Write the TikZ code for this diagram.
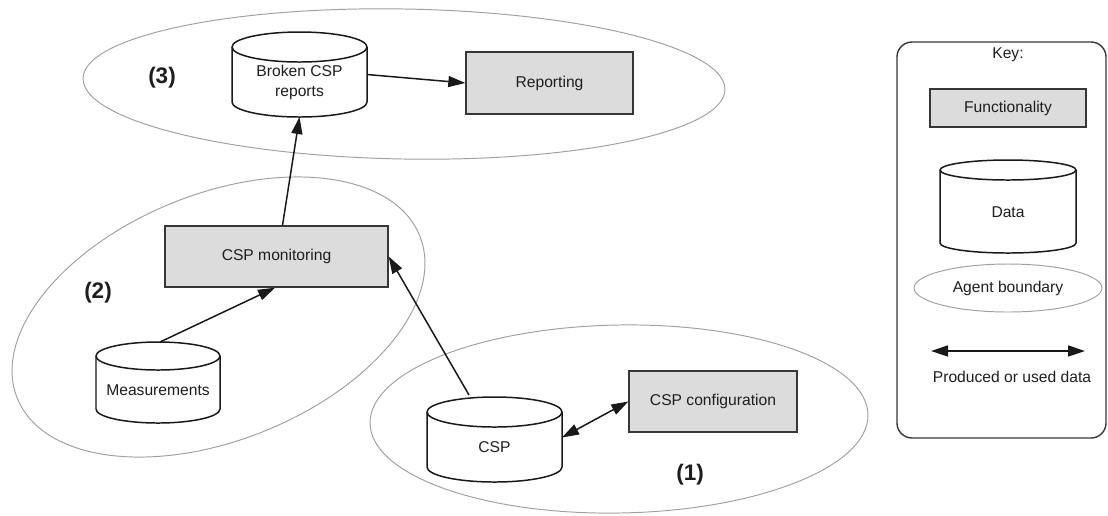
\documentclass[tikz,border=0pt]{standalone}
\usepackage{fontspec}
\setmainfont{Liberation Sans}
\usetikzlibrary{arrows.meta}

\definecolor{boxgray}{RGB}{220,220,220}
\definecolor{boxline}{RGB}{55,55,55}
\definecolor{agentline}{RGB}{160,160,160}
\definecolor{inktext}{RGB}{30,30,30}

% Data store drawn as a cylinder: name, centre x, centre y, half width, half height, cap radius
\newcommand\datacyl[6]{%
  \path[cylbody] (#2-#4,#3-#5+#6) -- (#2-#4,#3+#5-#6)
     arc[start angle=180,end angle=0,x radius=#4,y radius=#6]
     -- (#2+#4,#3-#5+#6)
     arc[start angle=0,end angle=-180,x radius=#4,y radius=#6] -- cycle;
  \draw[cylline] (#2-#4,#3-#5+#6) arc[start angle=180,end angle=0,x radius=#4,y radius=#6];
  \node[cylframe, minimum width={2*#4*0.02cm}, minimum height={2*#5*0.02cm}] (#1) at (#2,#3) {};
}

\begin{document}
\begin{tikzpicture}[x=0.02cm,y=-0.02cm,
  >={Triangle[length=0.34cm,width=0.22cm]},
  txt/.style={font=\fontsize{8.9}{11}\selectfont, text=inktext, inner sep=0, align=center},
  func/.style={txt, draw=boxline, fill=boxgray, line width=0.8pt},
  cylbody/.style={draw=black!90, fill=white, line width=0.85pt},
  cylline/.style={draw=black!90, line width=0.85pt},
  cylframe/.style={inner sep=0, outer sep=0},
  agent/.style={draw=agentline, line width=0.55pt},
  flow/.style={draw=black!90, line width=0.85pt},
  tag/.style={font=\bfseries\fontsize{12.8}{15}\selectfont, text=inktext, inner sep=0},
  keybox/.style={draw=boxline, line width=0.8pt, rounded corners=0.3cm}
]
\useasboundingbox (0,0) rectangle (1108,515);

% agent boundaries
\draw[agent, rotate around={-1:(404,84)}] (404,84) ellipse [x radius=321, y radius=75];
\draw[agent, rotate around={22:(218.5,317)}] (218.5,317) ellipse [x radius=217, y radius=123];
\draw[agent, rotate around={1:(619,419)}] (619,419) ellipse [x radius=249, y radius=94];

% agent (3)
\datacyl{broken}{299.5}{74.5}{67.5}{42.5}{15}
\node[txt] (brokent) at (299.5,82.5) {Broken CSP\\reports};
\node[func, minimum width=3.34cm, minimum height=1.24cm] (rep) at (549.5,83) {Reporting};
\node[tag] (l3) at (162,78) {(3)};

% agent (2)
\node[func, minimum width=4.46cm, minimum height=1.22cm] (mon) at (276.5,256.5) {CSP monitoring};
\datacyl{meas}{158}{382.5}{62}{40.5}{14}
\node[txt] (meast) at (158,390) {Measurements};
\node[tag] (l2) at (98,293) {(2)};

% agent (1)
\datacyl{csp}{494.5}{439.5}{67.5}{42.5}{15}
\node[txt] (cspt) at (494.5,447) {CSP};
\node[func, minimum width=3.36cm, minimum height=1.22cm] (cfg) at (713,401.5) {CSP configuration};
\node[tag] (l1) at (690,475) {(1)};

% data flows
\draw[flow, ->] (broken.east) -- (rep.west);
\draw[flow, ->] ([xshift=0.12cm]mon.north) -- (broken.south);
\draw[flow, ->] ([xshift=0.04cm]meas.north) -- ([xshift=-0.03cm]mon.south);
\draw[flow, ->] ([xshift=-0.51cm,yshift=0.04cm]csp.north) -- (mon.east);
\draw[flow, <->] ([yshift=0.04cm]csp.east) -- (cfg.west);

% key
\draw[keybox] (897,42) rectangle (1106,438);
\node[txt] (keyt) at (1008,55) {Key:};
\node[func, minimum width=3.12cm, minimum height=0.76cm] (kfunc) at (1008,108) {Functionality};
\datacyl{kdata}{1008}{206.5}{68}{46.5}{10}
\node[txt] (kdatat) at (1008,212) {Data};
\draw[agent] (1008,288) ellipse [x radius=94, y radius=24];
\node[txt] (kagent) at (1008,288) {Agent boundary};
\coordinate (ka) at (931,351);
\coordinate (kb) at (1085,351);
\draw[flow, <->] (ka) -- (kb);
\node[txt] (kflow) at (1012,377) {Produced or used data};
\end{tikzpicture}
\end{document}
